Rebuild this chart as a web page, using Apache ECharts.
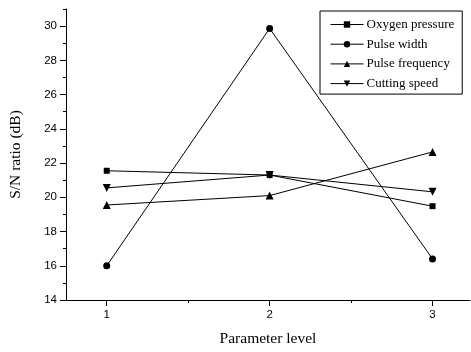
<!DOCTYPE html>
<html>
<head>
<meta charset="utf-8">
<script src="https://cdn.jsdelivr.net/npm/echarts@6/dist/echarts.min.js"></script>
<style>
  html, body { margin: 0; padding: 0; background: #fff; }
  #chart { width: 471px; height: 352px; }
</style>
</head>
<body>
<div id="chart"></div>
<script>
// Parameter levels on the x axis
const levels = [1, 2, 3];

// S/N ratio (dB) per level
const oxygenPressure = [21.55, 21.3, 19.48];
const pulseWidth = [16.0, 29.86, 16.4];
const pulseFrequency = [19.55, 20.1, 22.65];
const cuttingSpeed = [20.55, 21.3, 20.32];

const yMajorTicks = [14, 16, 18, 20, 22, 24, 26, 28, 30];
const yMinorTicks = [15, 17, 19, 21, 23, 25, 27, 29, 31];
const xMinorTicks = [1.5, 2.5];

const chart = echarts.init(document.getElementById('chart'));

function pairs(values) {
  return levels.map((lv, i) => [lv, values[i]]);
}

function lineSeries(name, values, symbol, size, rotate) {
  return {
    name: name,
    type: 'line',
    data: pairs(values),
    symbol: symbol,
    symbolSize: size,
    symbolRotate: rotate || 0,
    lineStyle: {color: '#000', width: 1},
    itemStyle: {color: '#000'},
    emphasis: {disabled: true}
  };
}

const axisText = {color: '#000', fontFamily: 'Liberation Sans', fontSize: 11.5};
const nameText = {color: '#000', fontFamily: 'Liberation Serif', fontSize: 15.5};

const option = {
  animation: false,
  backgroundColor: '#fff',
  grid: {left: 66, right: 1, top: 9, bottom: 51},
  legend: {
    orient: 'vertical',
    left: 320,
    top: 11,
    padding: [7, 8, 4, 10],
    itemWidth: 33,
    itemHeight: 8,
    itemGap: 6.7,
    borderColor: '#000',
    borderWidth: 1,
    lineStyle: {width: 1, color: '#000'},
    textStyle: {color: '#000', fontFamily: 'Liberation Serif', fontSize: 13, padding: [0, 0, 0, -2]},
    data: ['Oxygen pressure', 'Pulse width', 'Pulse frequency', 'Cutting speed']
  },
  xAxis: [{
    type: 'value',
    min: 0.75,
    max: 3.23,
    name: 'Parameter level',
    nameLocation: 'middle',
    nameGap: 31,
    nameTextStyle: nameText,
    splitLine: {show: false},
    axisLine: {onZero: false, lineStyle: {color: '#000', width: 1}},
    axisTick: {customValues: levels, length: 6, lineStyle: {color: '#000'}},
    axisLabel: Object.assign({customValues: levels, margin: 9}, axisText)
  }, {
    type: 'value',
    min: 0.75,
    max: 3.23,
    position: 'bottom',
    splitLine: {show: false},
    axisLine: {show: false},
    axisTick: {customValues: xMinorTicks, length: 3, lineStyle: {color: '#000'}},
    axisLabel: {show: false}
  }],
  yAxis: [{
    type: 'value',
    min: 14,
    max: 31,
    name: 'S/N ratio (dB)',
    nameLocation: 'middle',
    nameGap: 42,
    nameTextStyle: nameText,
    splitLine: {show: false},
    axisLine: {show: true, onZero: false, lineStyle: {color: '#000', width: 1}},
    axisTick: {show: true, customValues: yMajorTicks, length: 6, lineStyle: {color: '#000'}},
    axisLabel: Object.assign({customValues: yMajorTicks, margin: 9}, axisText)
  }, {
    type: 'value',
    min: 14,
    max: 31,
    position: 'left',
    splitLine: {show: false},
    axisLine: {show: false},
    axisTick: {show: true, customValues: yMinorTicks, length: 3, lineStyle: {color: '#000'}},
    axisLabel: {show: false}
  }],
  series: [
    lineSeries('Oxygen pressure', oxygenPressure, 'rect', 6),
    lineSeries('Pulse width', pulseWidth, 'circle', 7),
    lineSeries('Pulse frequency', pulseFrequency, 'triangle', 8),
    lineSeries('Cutting speed', cuttingSpeed, 'triangle', 8, 180)
  ]
};

chart.setOption(option);
</script>
</body>
</html>
